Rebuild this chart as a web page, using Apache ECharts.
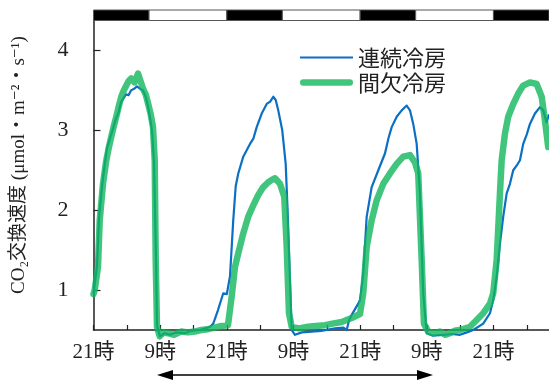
<!DOCTYPE html>
<html><head><meta charset="utf-8">
<script src="https://cdn.jsdelivr.net/npm/echarts@6/dist/echarts.min.js"></script>
<style>html,body{margin:0;padding:0;background:#fff}#c{width:549px;height:381px}</style>
</head><body><div id="c"></div>
<script>
// hours after 21時 of day 0
const contHours = [0,0.1,0.63,0.99,1.53,1.89,2.43,2.97,3.5,4.05,4.5,4.95,5.4,5.85,6.3,6.75,7.3,7.83,8.4,8.91,9.4,9.81,10.2,10.53,10.89,11.25,11.43,11.97,12.8,13.77,14.8,16.47,17.5,19.17,20.07,21.0,21.56,22.41,23.36,24.0,24.57,25.16,25.6,26.06,26.96,28.17,28.8,29.38,30.28,31.18,31.8,32.36,32.8,33.26,33.98,34.6,34.96,35.37,35.68,36.27,37.5,39.28,41.0,43.47,45.0,45.58,46.0,46.48,47.66,47.97,48.56,49.18,50.08,51.27,52.47,53.1,53.68,54.58,55.48,56.38,56.97,57.56,58.18,58.77,59.36,59.98,61.0,62.96,64.5,65.97,67.2,68.36,70.16,71.37,71.96,72.58,73.17,73.76,74.38,74.97,75.56,76.2,76.77,77.36,78.0,78.57,79.47,80.37,80.96,81.57,82];
const contValues = [0.95,0.95,1.3,1.9,2.3,2.5,2.78,2.9,3.02,3.15,3.22,3.35,3.4,3.45,3.44,3.5,3.52,3.55,3.52,3.5,3.42,3.3,3.15,3.0,2.6,1.4,0.55,0.42,0.46,0.44,0.47,0.46,0.49,0.5,0.52,0.54,0.58,0.75,0.96,0.95,1.17,1.875,2.3,2.46,2.67,2.83,2.9,3.04,3.21,3.33,3.36,3.42,3.38,3.25,3.0,2.58,1.96,1.125,0.5,0.44,0.47,0.48,0.49,0.52,0.53,0.5,0.62,0.69,0.83,0.875,1.2,1.92,2.29,2.5,2.71,2.9,3.04,3.17,3.25,3.31,3.25,3.08,2.83,2.21,0.96,0.46,0.43,0.44,0.45,0.44,0.47,0.5,0.58,0.71,0.875,1.17,1.58,1.92,2.21,2.33,2.5,2.56,2.625,2.83,2.95,3.08,3.21,3.29,3.25,3.1,3.2];
const intHours = [0,0.22,0.81,1.12,1.71,2.3,2.75,3.2,3.65,4.1,4.55,5.0,5.45,5.9,6.35,6.8,7.4,8.01,8.45,8.91,9.4,9.81,10.3,10.71,11.02,11.2,11.43,11.92,12.6,13.41,14.5,15.75,17.0,18.22,19.4,20.61,21.8,23.0,24.21,24.57,24.88,25.47,26.06,26.96,27.86,28.76,29.66,30.56,31.46,32.1,32.67,33.2,33.57,34.34,34.78,35.19,35.68,37.0,38.61,40.0,41.67,43.0,44.68,46.48,47.97,48.56,49.18,50.08,50.98,52.16,53.37,54.58,55.76,56.97,57.87,58.46,59.08,59.49,60.26,61.3,62.37,63.3,64.17,65.0,65.97,67.77,68.98,70.16,71.37,71.96,72.58,73.17,73.48,74.07,74.66,75.56,76.46,77.36,78.57,79.78,80.68,81.27,81.86];
const intValues = [0.95,1.0,1.29,1.875,2.33,2.625,2.78,2.92,3.05,3.17,3.3,3.42,3.5,3.56,3.62,3.65,3.6,3.71,3.62,3.52,3.45,3.34,3.2,3.04,2.625,1.375,0.54,0.42,0.47,0.46,0.44,0.48,0.47,0.48,0.5,0.51,0.53,0.55,0.56,0.56,0.92,1.29,1.46,1.71,1.92,2.06,2.19,2.29,2.35,2.38,2.4,2.36,2.33,2.17,1.54,0.71,0.54,0.52,0.54,0.55,0.56,0.58,0.6,0.65,0.7,0.96,1.54,1.875,2.125,2.33,2.46,2.58,2.67,2.69,2.6,2.46,1.375,0.58,0.48,0.46,0.48,0.44,0.46,0.49,0.5,0.54,0.625,0.71,0.83,0.96,1.375,2.21,2.625,2.96,3.17,3.33,3.46,3.56,3.6,3.58,3.42,3.125,2.79];
// light (0) / dark (1) periods on top bar, hours
const periodStart = [0,10,24,34,48,58,72];
const periodEnd   = [10,24,34,48,58,72,82];
const periodDark  = [1,0,1,0,1,0,1];
const xTickHours = [0,6,12,18,24,30,36,42,48,54,60,66,72,78];
const xLabelHours = [0,12,24,36,48,60,72];
const yTicks = [1,2,3,4];
const seriesNames = ['連続冷房','間欠冷房'];

const zip = (a,b)=>a.map((v,i)=>[v,b[i]]);
const fontSerif = '"Liberation Serif","DejaVu Serif","Noto Sans CJK JP",serif';
const fontMix = '"Liberation Serif","Noto Sans CJK JP",serif';
const chart = echarts.init(document.getElementById('c'), null, {renderer:'canvas'});
chart.setOption({
  animation:false,
  backgroundColor:'#fff',
  grid:[
    {left:93.5, right:0, top:20.5, bottom:51, containLabel:false},
    {left:93.5, right:0, top:10, height:10.5}
  ],
  legend:{
    data:[
      {name:seriesNames[0], icon:'path://M0,0H53V2.2H0Z'},
      {name:seriesNames[1], icon:'path://M3.25,0H49.75A3.25,3.25 0 0 1 49.75,6.5H3.25A3.25,3.25 0 0 1 3.25,0Z'}
    ],
    orient:'vertical', left:300, top:45, padding:0,
    itemWidth:53, itemHeight:14, itemGap:0, symbolKeepAspect:true,
    textStyle:{fontSize:22, color:'#222', fontFamily:'"Noto Sans CJK JP",sans-serif', lineHeight:25}
  },
  xAxis:[
    {type:'value', gridIndex:0, min:0, max:82,
     axisLine:{show:true, lineStyle:{color:'#222', width:1.5}},
     axisTick:{show:true, inside:true, length:5, customValues:xTickHours, lineStyle:{color:'#222', width:1.2}},
     axisLabel:{customValues:xLabelHours, margin:12, fontSize:21, color:'#222', fontFamily:fontMix,
       formatter:v=> (v%24===0 ? '21時' : (v%24===12 ? '9時' : ''))},
     splitLine:{show:false}},
    {type:'value', gridIndex:1, min:0, max:82, show:false}
  ],
  yAxis:[
    {type:'value', gridIndex:0, min:0.5, max:4.375,
     axisLine:{show:true, lineStyle:{color:'#222', width:1.5}},
     axisTick:{show:true, inside:true, length:7, customValues:yTicks, lineStyle:{color:'#222', width:1.2}},
     axisLabel:{customValues:yTicks, margin:25, fontSize:22, color:'#222', fontFamily:fontSerif},
     splitLine:{show:false}},
    {type:'value', gridIndex:1, min:0, max:1, show:false}
  ],
  series:[
    {name:seriesNames[0], type:'line', xAxisIndex:0, yAxisIndex:0, data:zip(contHours,contValues),
     showSymbol:false, symbol:'none', clip:false, z:2,
     lineStyle:{color:'#0b6fc4', width:2.2, join:'round'}, itemStyle:{color:'#0b6fc4'}},
    {name:seriesNames[1], type:'line', xAxisIndex:0, yAxisIndex:0, data:zip(intHours,intValues),
     showSymbol:false, symbol:'none', clip:false, z:3,
     lineStyle:{color:'rgb(18,182,93)', opacity:0.8, width:6.5, cap:'round', join:'round'}, itemStyle:{color:'rgb(65,197,125)'}},
    {type:'custom', xAxisIndex:1, yAxisIndex:1, silent:true, clip:false,
     data:periodStart.map((s,i)=>[s,periodEnd[i],periodDark[i]]),
     encode:{x:[0,1]},
     renderItem:(params, api)=>{
       const p0 = api.coord([api.value(0),0]);
       const p1 = api.coord([api.value(1),1]);
       return {type:'rect', shape:{x:p0[0], y:p1[1], width:p1[0]-p0[0], height:p0[1]-p1[1]},
         style:{fill: api.value(2) ? '#000' : '#fff', stroke:'#555', lineWidth:1}};
     }}
  ],
  graphic:[
    {type:'text', x:19, y:165, rotation:Math.PI/2, silent:true,
     style:{text:'CO₂交換速度 (μmol・m⁻²・s⁻¹)', fontSize:19, fill:'#222', fontFamily:fontSerif, align:'center', verticalAlign:'middle'}},
    {type:'line', silent:true, shape:{x1:168, y1:375, x2:422, y2:375}, style:{stroke:'#000', lineWidth:1.5}},
    {type:'polygon', silent:true, shape:{points:[[157,375],[173,370],[173,380]]}, style:{fill:'#000'}},
    {type:'polygon', silent:true, shape:{points:[[433,375],[417,370],[417,380]]}, style:{fill:'#000'}}
  ]
});
</script></body></html>
